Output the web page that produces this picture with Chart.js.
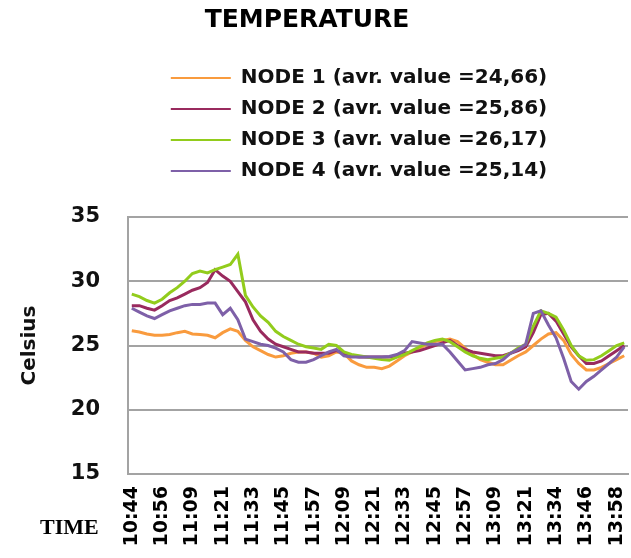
<!DOCTYPE html>
<html>
<head>
<meta charset="utf-8">
<title>Temperature</title>
<script src="https://cdn.jsdelivr.net/npm/chart.js@4.4.1/dist/chart.umd.min.js"></script>
<style>
  html, body { margin: 0; padding: 0; background: #fff; }
  #wrap { width: 631px; height: 558px; }
</style>
</head>
<body>
<div id="wrap"><canvas id="chart"></canvas></div>
<script>
// readings every ~3 minutes, only every 4th time is printed on the axis
const TIMES = [
    '10:44', '10:47', '10:50', '10:53', '10:56', '10:59', '11:02', '11:06',
    '11:09', '11:12', '11:15', '11:18', '11:21', '11:24', '11:27', '11:30',
    '11:33', '11:36', '11:39', '11:42', '11:45', '11:48', '11:51', '11:54',
    '11:57', '12:00', '12:03', '12:06', '12:09', '12:12', '12:15', '12:18',
    '12:21', '12:24', '12:27', '12:30', '12:33', '12:36', '12:39', '12:42',
    '12:45', '12:48', '12:51', '12:54', '12:57', '13:00', '13:03', '13:06',
    '13:09', '13:12', '13:15', '13:18', '13:21', '13:24', '13:28', '13:31',
    '13:34', '13:37', '13:40', '13:43', '13:46', '13:49', '13:52', '13:55',
    '13:58', '14:01'
];

const NODE1 = [
    26.15, 26.05, 25.9, 25.8, 25.8, 25.85, 26.0, 26.1, 25.9, 25.85,
    25.8, 25.6, 26.0, 26.3, 26.1, 25.4, 24.9, 24.6, 24.3, 24.1,
    24.2, 24.4, 24.5, 24.5, 24.4, 24.1, 24.2, 24.5, 24.4, 23.8,
    23.5, 23.3, 23.3, 23.2, 23.4, 23.8, 24.2, 24.5, 24.8, 25.1,
    25.3, 25.4, 25.5, 25.3, 24.8, 24.3, 23.9, 23.7, 23.5, 23.5,
    23.85, 24.2, 24.5, 25.0, 25.5, 25.9, 26.0, 25.4, 24.3, 23.6,
    23.1, 23.1, 23.3, 23.6, 23.9, 24.2
];
const NODE2 = [
    28.1, 28.1, 27.9, 27.75, 28.1, 28.5, 28.7, 29.0, 29.3, 29.5,
    29.9, 30.9, 30.4, 30.0, 29.2, 28.4, 27.0, 26.1, 25.5, 25.1,
    24.9, 24.7, 24.5, 24.5, 24.4, 24.4, 24.4, 24.6, 24.4, 24.2,
    24.1, 24.1, 24.1, 24.1, 24.1, 24.2, 24.4, 24.5, 24.6, 24.8,
    25.0, 25.2, 25.4, 25.0, 24.7, 24.5, 24.4, 24.3, 24.2, 24.2,
    24.4, 24.6, 24.9, 26.0, 27.4, 27.5, 26.9, 25.9, 24.9, 24.2,
    23.6, 23.6, 23.8, 24.2, 24.6, 25.0
];
const NODE3 = [
    29.0, 28.8, 28.5, 28.3, 28.6, 29.1, 29.5, 30.0, 30.6, 30.8,
    30.65, 30.9, 31.1, 31.3, 32.1, 28.9, 28.0, 27.3, 26.8, 26.1,
    25.7, 25.4, 25.1, 24.9, 24.8, 24.7, 25.1, 25.0, 24.5, 24.3,
    24.2, 24.1, 24.0, 23.9, 23.85, 24.1, 24.3, 24.6, 24.9, 25.2,
    25.4, 25.5, 25.3, 24.9, 24.5, 24.2, 24.0, 23.9, 24.0, 24.1,
    24.4, 24.8, 25.1, 26.5, 27.7, 27.5, 27.2, 26.2, 25.0, 24.2,
    23.85, 23.9, 24.2, 24.6, 25.0, 25.2
];
const NODE4 = [
    27.9, 27.6, 27.3, 27.1, 27.4, 27.7, 27.9, 28.1, 28.2, 28.2,
    28.3, 28.3, 27.4, 27.9, 27.0, 25.5, 25.3, 25.1, 25.0, 24.8,
    24.5, 23.9, 23.7, 23.7, 23.9, 24.2, 24.5, 24.7, 24.2, 24.1,
    24.1, 24.1, 24.1, 24.1, 24.15, 24.3, 24.6, 25.3, 25.2, 25.1,
    25.1, 25.1, 24.5, 23.8, 23.1, 23.2, 23.3, 23.5, 23.6, 23.9,
    24.4, 24.7, 25.1, 27.5, 27.7, 26.6, 25.6, 24.0, 22.2, 21.6,
    22.2, 22.6, 23.1, 23.6, 24.1, 24.9
];

const SERIES_NAMES = [
    'NODE 1 (avr. value =24,66)',
    'NODE 2 (avr. value =25,86)',
    'NODE 3 (avr. value =26,17)',
    'NODE 4 (avr. value =25,14)'
];

const COLORS = {
    node1: '#F99B3E',
    node2: '#992A5E',
    node3: '#92CC1C',
    node4: '#7E60A8',
    grid: '#A3A3A3',
    text: '#111111',
};

const FONT = 'DejaVu Sans';
const LEGEND_SHIFT = -19;
const TITLE_SHIFT = -7;

const makeSet = (label, data, color, order) => ({
    label: label,
    data: data,
    borderColor: color,
    backgroundColor: color,
    borderWidth: 3,
    pointRadius: 0,
    tension: 0,
    order: order,  // later nodes are painted over earlier ones
});

// small helper plugin: title/legend position tweak + the "TIME" caption
const extras = {
    id: 'extras',
    afterLayout(chart) {
        chart.legend.left += LEGEND_SHIFT;
        chart.legend.right += LEGEND_SHIFT;
        chart.titleBlock.left += TITLE_SHIFT;
        chart.titleBlock.right += TITLE_SHIFT;
    },
    afterDraw(chart) {
        const ctx = chart.ctx;
        ctx.save();
        ctx.font = 'bold 22px "Liberation Serif"';
        ctx.fillStyle = '#000';
        ctx.textBaseline = 'middle';
        ctx.textAlign = 'left';
        ctx.fillText('TIME', 40, 528);
        ctx.restore();
    }
};

new Chart(document.getElementById('chart'), {
    type: 'line',
    data: {
        labels: TIMES,
        datasets: [
            makeSet(SERIES_NAMES[0], NODE1, COLORS.node1, 4),
            makeSet(SERIES_NAMES[1], NODE2, COLORS.node2, 3),
            makeSet(SERIES_NAMES[2], NODE3, COLORS.node3, 2),
            makeSet(SERIES_NAMES[3], NODE4, COLORS.node4, 1),
        ]
    },
    plugins: [extras],
    options: {
        responsive: true,
        maintainAspectRatio: false,
        animation: false,
        layout: { padding: { left: 0, right: 3, top: 0, bottom: 0 } },
        plugins: {
            title: {
                display: true,
                text: 'TEMPERATURE',
                color: '#000',
                font: { family: FONT, size: 25, weight: 'bold' },
                padding: { top: 5, bottom: 22 }
            },
            // empty block that keeps a gap between legend and plot
            subtitle: {
                display: true,
                text: '',
                weight: 500,
                font: { size: 10 },
                padding: { top: 7, bottom: 7 }
            },
            legend: {
                position: 'top',
                fullSize: false,
                labels: {
                    usePointStyle: true,
                    pointStyle: 'line',
                    pointStyleWidth: 60,
                    padding: 11,
                    color: COLORS.text,
                    font: { family: FONT, size: 20, weight: 'bold' },
                    sort: (a, b) => a.datasetIndex - b.datasetIndex,
                    generateLabels(chart) {
                        const items = Chart.defaults.plugins.legend.labels.generateLabels(chart);
                        items.forEach(item => { item.lineWidth = 2; });
                        return items;
                    }
                }
            },
            tooltip: { enabled: false }
        },
        scales: {
            x: {
                offset: true,
                grid: { display: false, drawTicks: false },
                border: { display: true, color: COLORS.grid, width: 2 },
                ticks: {
                    autoSkip: false,
                    minRotation: 90,
                    maxRotation: 90,
                    padding: 12,
                    color: '#000',
                    font: { family: FONT, size: 19, weight: 'bold' },
                    callback: function(value, index) {
                        return index % 4 === 0 ? this.getLabelForValue(value) : '';
                    }
                },
                afterFit(scale) {
                    scale.height = 84;
                    // the plot runs right up to the edge like the original
                    scale.paddingLeft = 0;
                    scale.paddingRight = 0;
                }
            },
            y: {
                min: 15,
                max: 35,
                ticks: {
                    stepSize: 5,
                    padding: 28,
                    color: COLORS.text,
                    font: { family: FONT, size: 21, weight: 'bold' }
                },
                grid: { color: COLORS.grid, lineWidth: 2, drawTicks: false },
                border: { display: true, color: COLORS.grid, width: 2 },
                title: {
                    display: true,
                    text: 'Celsius',
                    color: COLORS.text,
                    font: { family: FONT, size: 20, weight: 'bold' },
                    padding: { top: 18, bottom: 0 }
                },
                afterFit(scale) { scale.width = 128; }
            }
        }
    }
});
</script>
</body>
</html>
